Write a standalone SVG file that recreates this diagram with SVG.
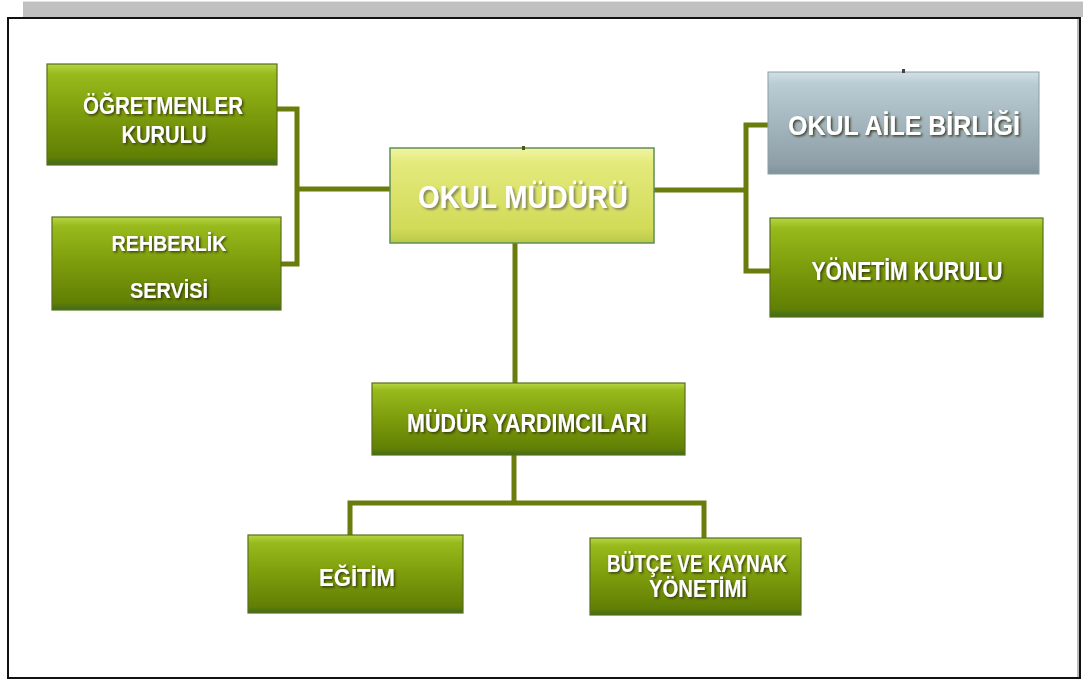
<svg xmlns="http://www.w3.org/2000/svg" width="1083" height="679" viewBox="0 0 1083 679">
<defs>
<linearGradient id="gGreen" x1="0" y1="0" x2="0" y2="1">
<stop offset="0" stop-color="#b7d544"/>
<stop offset="0.1" stop-color="#98ba1c"/>
<stop offset="0.5" stop-color="#7d9c0c"/>
<stop offset="0.92" stop-color="#617f04"/>
<stop offset="1" stop-color="#3f6a1c"/>
</linearGradient>
<linearGradient id="gYellow" x1="0" y1="0" x2="0" y2="1">
<stop offset="0" stop-color="#f2f4a4"/>
<stop offset="0.15" stop-color="#e4ea7c"/>
<stop offset="0.85" stop-color="#d2da58"/>
<stop offset="1" stop-color="#b9c84a"/>
</linearGradient>
<linearGradient id="gGray" x1="0" y1="0" x2="0" y2="1">
<stop offset="0" stop-color="#d2e0e6"/>
<stop offset="0.12" stop-color="#b9cbd3"/>
<stop offset="0.9" stop-color="#8e9fa7"/>
<stop offset="1" stop-color="#7f939b"/>
</linearGradient>
<filter id="sh" x="-10%" y="-30%" width="120%" height="160%">
<feDropShadow dx="1.5" dy="1.5" stdDeviation="1" flood-color="#2a2a10" flood-opacity="0.85"/>
</filter>
<filter id="shLight" x="-10%" y="-30%" width="120%" height="160%">
<feDropShadow dx="2" dy="2" stdDeviation="1.2" flood-color="#6f7450" flood-opacity="0.8"/>
</filter>
</defs>
<style>
.box{fill:url(#gGreen);stroke:#58701a;stroke-width:1.2}
.boxY{fill:url(#gYellow);stroke:#5f8f55;stroke-width:1.5}
.boxG{fill:url(#gGray);stroke:#8aa0a6;stroke-width:1}
.t{font-family:"Liberation Sans",Arial,sans-serif;font-weight:bold;fill:#ffffff;text-anchor:middle;filter:url(#sh)}
.tl{font-family:"Liberation Sans",Arial,sans-serif;font-weight:bold;fill:#ffffff;text-anchor:middle;filter:url(#shLight)}
.c{fill:none;stroke:#6a7c0c;stroke-width:5}
</style>
<rect x="0" y="0" width="1083" height="679" fill="#ffffff"/>
<rect x="23" y="1" width="1060" height="16" fill="#c0c0c0"/>
<line x1="23" y1="1.5" x2="1083" y2="1.5" stroke="#e2e2e2" stroke-width="1"/>
<rect x="8" y="18" width="1072" height="660" fill="#ffffff" stroke="#111111" stroke-width="2"/>
<line x1="1078" y1="19" x2="1078" y2="677" stroke="#777777" stroke-width="1"/>

<g id="connectors">
<path class="c" d="M277,109 H297 V264 H281"/>
<path class="c" d="M297,189 H390"/>
<path class="c" d="M654,190 H746"/>
<path class="c" d="M768,125 H746 V271 H770"/>
<path class="c" d="M515,243 V383"/>
<path class="c" d="M514,455 V503"/>
<path class="c" d="M350,535 V503 H704 V538"/>
</g>

<g id="ogretmenler">
<rect class="box" x="47" y="64" width="230" height="101"/>
<text class="t" font-size="24" x="163" y="114" textLength="160" lengthAdjust="spacingAndGlyphs">ÖĞRETMENLER</text>
<text class="t" font-size="24" x="164" y="143" textLength="85" lengthAdjust="spacingAndGlyphs">KURULU</text>
</g>

<g id="rehberlik">
<rect class="box" x="52" y="217" width="229" height="93"/>
<text class="t" font-size="22" x="169" y="251" textLength="115" lengthAdjust="spacingAndGlyphs">REHBERLİK</text>
<text class="t" font-size="22" x="169" y="298" textLength="78" lengthAdjust="spacingAndGlyphs">SERVİSİ</text>
</g>

<g id="okul-muduru">
<rect class="boxY" x="390" y="148" width="264" height="95"/>
<rect x="522" y="146" width="3" height="4" fill="#4a5a10"/>
<text class="tl" font-size="31" x="523" y="208" textLength="210" lengthAdjust="spacingAndGlyphs">OKUL MÜDÜRÜ</text>
</g>

<g id="okul-aile-birligi">
<rect class="boxG" x="768" y="72" width="271" height="102"/>
<rect x="902" y="69" width="3" height="4" fill="#444444"/>
<text class="t" font-size="28" x="904" y="135" textLength="232" lengthAdjust="spacingAndGlyphs">OKUL AİLE BİRLİĞİ</text>
</g>

<g id="yonetim-kurulu">
<rect class="box" x="770" y="218" width="273" height="99"/>
<text class="t" font-size="26" x="907" y="280" textLength="191" lengthAdjust="spacingAndGlyphs">YÖNETİM KURULU</text>
</g>

<g id="mudur-yardimcilari">
<rect class="box" x="372" y="383" width="313" height="72"/>
<text class="t" font-size="26" x="527" y="432" textLength="240" lengthAdjust="spacingAndGlyphs">MÜDÜR YARDIMCILARI</text>
</g>

<g id="egitim">
<rect class="box" x="248" y="535" width="215" height="78"/>
<text class="t" font-size="24" x="357" y="586" textLength="76" lengthAdjust="spacingAndGlyphs">EĞİTİM</text>
</g>

<g id="butce">
<rect class="box" x="590" y="538" width="211" height="77"/>
<text class="t" font-size="23" x="697" y="572" textLength="180" lengthAdjust="spacingAndGlyphs">BÜTÇE VE KAYNAK</text>
<text class="t" font-size="23" x="698" y="597" textLength="98" lengthAdjust="spacingAndGlyphs">YÖNETİMİ</text>
</g>
</svg>
